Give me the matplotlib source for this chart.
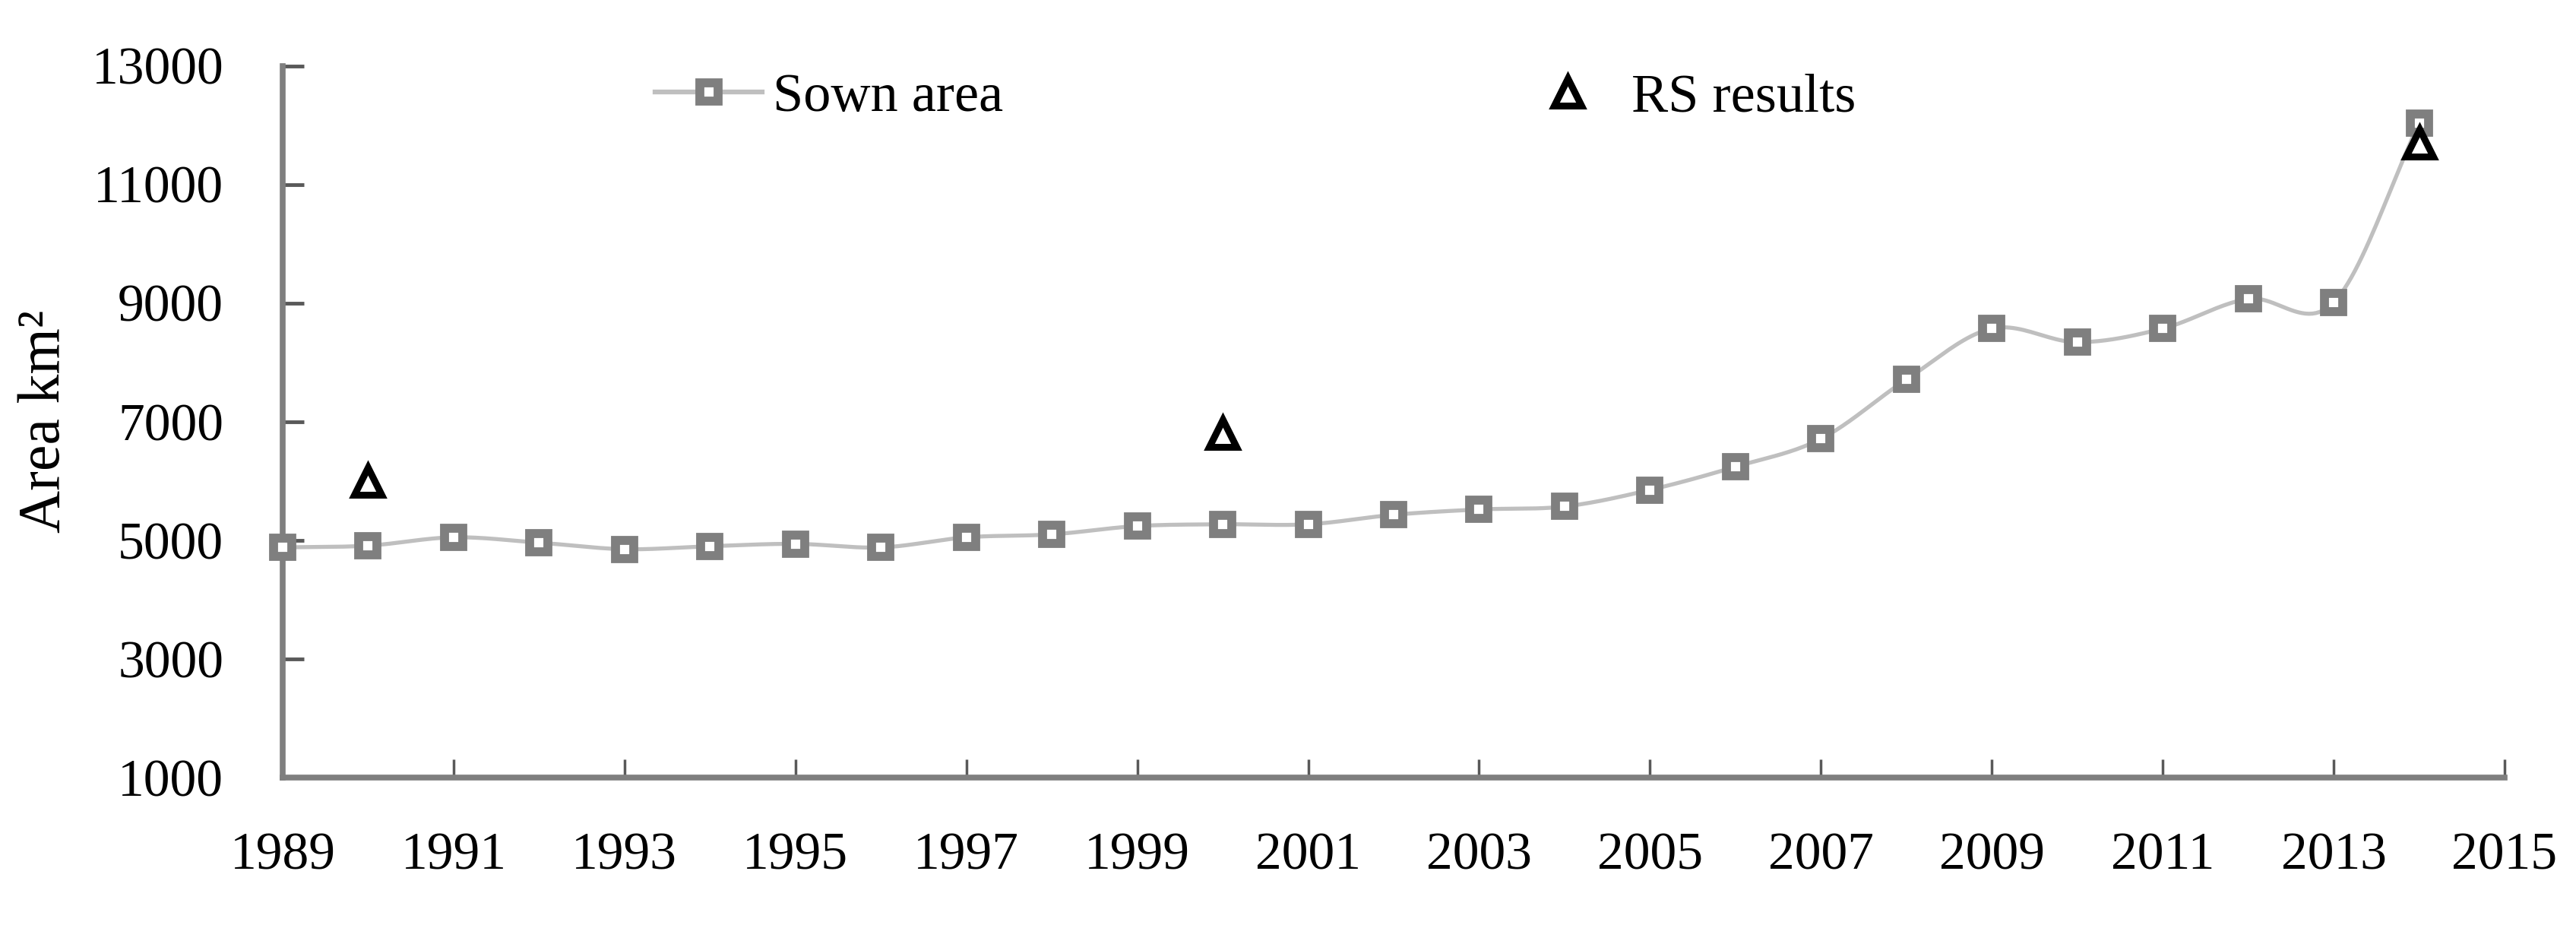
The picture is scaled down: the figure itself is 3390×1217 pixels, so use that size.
import numpy as np
import matplotlib.pyplot as plt

# data
years = list(range(1989, 2015))
sown_area = [4880, 4910, 5050, 4960, 4850, 4900, 4940, 4880, 5050, 5100,
             5240, 5270, 5270, 5430, 5520, 5570, 5850, 6240, 6710, 7710,
             8570, 8340, 8570, 9070, 9010, 12030]
rs_years = [1990, 2000, 2014]
rs_results = [6000, 6800, 11700]
xticks = list(range(1989, 2016, 2))
yticks = list(range(1000, 13001, 2000))


def smooth(x, y, n=24):
    # Catmull-Rom curve through the points (like Excel "smoothed line")
    x = np.asarray(x, float)
    y = np.asarray(y, float)
    px = np.concatenate([[2 * x[0] - x[1]], x, [2 * x[-1] - x[-2]]])
    py = np.concatenate([[2 * y[0] - y[1]], y, [2 * y[-1] - y[-2]]])
    t = np.linspace(0, 1, n, endpoint=False)
    xs, ys = [], []
    for i in range(1, len(px) - 2):
        for p, out in ((px, xs), (py, ys)):
            p0, p1, p2, p3 = p[i - 1], p[i], p[i + 1], p[i + 2]
            out.extend(0.5 * (2 * p1 + (-p0 + p2) * t
                              + (2 * p0 - 5 * p1 + 4 * p2 - p3) * t ** 2
                              + (-p0 + 3 * p1 - 3 * p2 + p3) * t ** 3))
    xs.append(x[-1])
    ys.append(y[-1])
    return xs, ys


plt.rcParams['font.family'] = ['Liberation Serif', 'DejaVu Serif']

fig = plt.figure(figsize=(33.91, 12.17), dpi=100)
ax = fig.add_axes([0.1097, 0.1594, 0.8623, 0.7695])

sx, sy = smooth(years, sown_area)
ax.plot(sx, sy, color='#BFBFBF', lw=3.8, zorder=2)
ax.plot(years, sown_area, ls='none', marker='s', ms=17, mew=8.5,
        mec='#7F7F7F', mfc='white', zorder=3, clip_on=False)
ax.plot(rs_years, rs_results, ls='none', marker='^', ms=26, mew=6.5,
        mec='black', mfc='white', zorder=4, clip_on=False)

# legend handles
h1, = ax.plot([], [], color='#BFBFBF', lw=4.5, marker='s', ms=17, mew=8.5,
              mec='#7F7F7F', mfc='white')
h2, = ax.plot([], [], ls='none', marker='^', ms=26, mew=6.5,
              mec='black', mfc='white')
ax.legend([h1, h2], ['Sown area', 'RS results'], ncol=2, frameon=False,
          fontsize=52, loc='center left', bbox_to_anchor=(0.1454, 0.955),
          borderpad=0.4, handlelength=1.95, handletextpad=0.2,
          columnspacing=9.3)

ax.set_xlim(1989, 2015)
ax.set_ylim(1000, 13000)
ax.set_xticks(xticks)
ax.set_yticks(yticks)
ax.spines['top'].set_visible(False)
ax.spines['right'].set_visible(False)
for s in ('left', 'bottom'):
    ax.spines[s].set_color('#7F7F7F')
    ax.spines[s].set_linewidth(5.5)
ax.tick_params(axis='y', direction='in', length=20, width=3.5,
               color='#595959', labelsize=50, pad=56)
ax.tick_params(axis='x', direction='in', length=17, width=2.5,
               color='#595959', labelsize=50, pad=52)
ax.set_ylabel('Area km²', fontsize=56, labelpad=18)

plt.savefig('out.png')
